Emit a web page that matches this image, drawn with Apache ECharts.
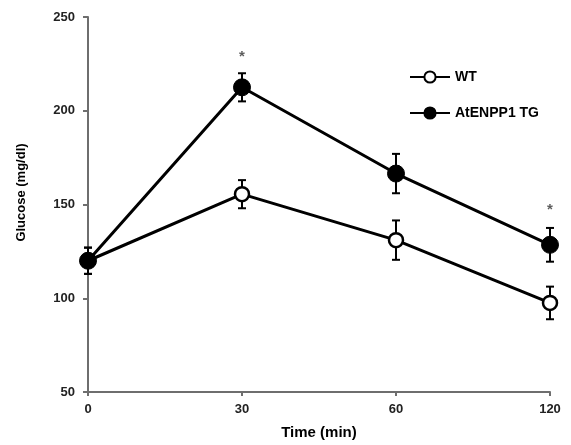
<!DOCTYPE html>
<html><head><meta charset="utf-8">
<script src="https://cdn.jsdelivr.net/npm/echarts@6/dist/echarts.min.js"></script>
<style>html,body{margin:0;padding:0;background:#fff}#c{width:571px;height:445px}</style>
</head><body><div id="c"></div>
<script>
const categories = ['0', '30', '60', '120'];
const wtMean = [120, 155.5, 131, 97.5];
const wtErr = [7, 7.5, 10.5, 8.7];
const tgMean = [120, 212.5, 166.5, 128.5];
const tgErr = [7, 7.5, 10.5, 9];
const yTicks = [50, 100, 150, 200, 250];
const stars = [['30', 229], ['120', 147]];

const font = 'Liberation Sans, Arial, sans-serif';
function errSeries(mean, err) {
  return {
    type: 'custom',
    data: mean.map((m, i) => [i, m - err[i], m + err[i]]),
    z: 1,
    silent: true,
    renderItem: function (params, api) {
      const x = api.value(0);
      const lo = api.coord([x, api.value(1)]);
      const hi = api.coord([x, api.value(2)]);
      const w = 4;
      const st = { stroke: '#000', lineWidth: 2 };
      return {
        type: 'group',
        children: [
          { type: 'line', shape: { x1: lo[0], y1: lo[1], x2: hi[0], y2: hi[1] }, style: st },
          { type: 'line', shape: { x1: lo[0] - w, y1: lo[1], x2: lo[0] + w, y2: lo[1] }, style: st },
          { type: 'line', shape: { x1: hi[0] - w, y1: hi[1], x2: hi[0] + w, y2: hi[1] }, style: st }
        ]
      };
    }
  };
}
const chart = echarts.init(document.getElementById('c'));
chart.setOption({
  animation: false,
  grid: { left: 88, right: 21, top: 17, bottom: 52 },
  legend: {
    orient: 'vertical', left: 404, top: 65, itemGap: 22,
    itemWidth: 40, itemHeight: 14,
    textStyle: { fontFamily: font, fontWeight: 'bold', fontSize: 14, color: '#000' },
    data: ['WT', 'AtENPP1 TG']
  },
  xAxis: {
    type: 'category', data: categories, boundaryGap: false,
    name: 'Time (min)', nameLocation: 'middle', nameGap: 33,
    nameTextStyle: { fontFamily: font, fontWeight: 'bold', fontSize: 15, color: '#000' },
    axisLine: { lineStyle: { color: '#6e6e6e', width: 2 } },
    axisTick: { length: 4, lineStyle: { color: '#6e6e6e', width: 2 } },
    axisLabel: { fontFamily: font, fontWeight: 'bold', fontSize: 13, color: '#222', margin: 11 }
  },
  yAxis: {
    type: 'value', min: yTicks[0], max: yTicks[yTicks.length - 1], interval: 50,
    name: 'Glucose (mg/dl)', nameLocation: 'middle', nameGap: 60, nameRotate: 90,
    nameTextStyle: { fontFamily: font, fontWeight: 'bold', fontSize: 13, color: '#000', padding: [0, 0, 0, 24] },
    splitLine: { show: false },
    axisLine: { show: true, lineStyle: { color: '#6e6e6e', width: 2 } },
    axisTick: { show: true, length: 5, lineStyle: { color: '#6e6e6e', width: 2 } },
    axisLabel: { fontFamily: font, fontWeight: 'bold', fontSize: 13, color: '#222', margin: 13 }
  },
  series: [
    errSeries(wtMean, wtErr),
    errSeries(tgMean, tgErr),
    {
      name: 'WT', type: 'line', data: wtMean, z: 3,
      symbol: 'circle', symbolSize: 14, showAllSymbol: true,
      lineStyle: { color: '#000', width: 3 },
      itemStyle: { color: '#fff', borderColor: '#000', borderWidth: 2.5 }
    },
    {
      name: 'AtENPP1 TG', type: 'line', data: tgMean, z: 4,
      symbol: 'circle', symbolSize: 17, showAllSymbol: true,
      lineStyle: { color: '#000', width: 3 },
      itemStyle: { color: '#000', borderColor: '#000', borderWidth: 1 }
    },
    {
      type: 'scatter', data: stars, symbolSize: 0, silent: true,
      label: { show: true, position: 'inside', formatter: '*', fontFamily: font, fontWeight: 'bold', fontSize: 15, color: '#333' }
    }
  ]
});
</script></body></html>
